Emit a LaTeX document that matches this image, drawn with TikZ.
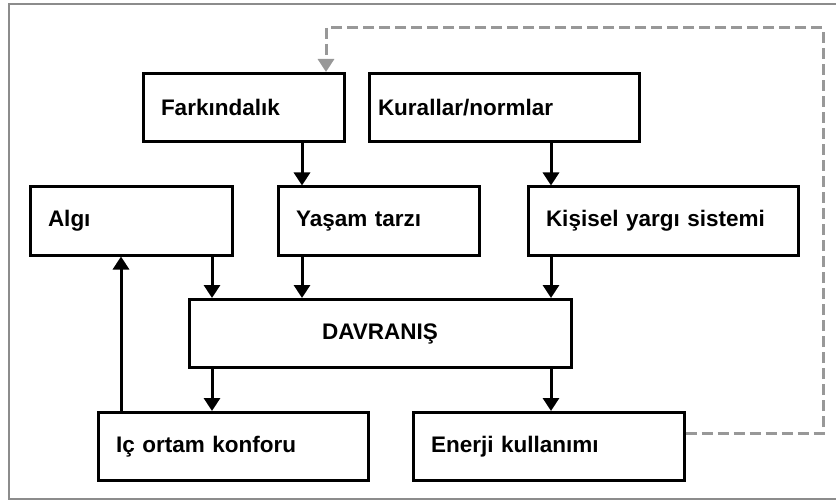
\documentclass[tikz,border=0pt]{standalone}
\usepackage{fontspec}
\setmainfont{Liberation Sans}
\usepackage{tikz}
\usetikzlibrary{arrows.meta}
\definecolor{kesik}{RGB}{152,152,152}
\definecolor{cerceve}{RGB}{140,140,140}

\begin{document}
\begin{tikzpicture}[x=1pt, y=-1pt, >={Triangle[width=16pt,length=13pt]},
  font=\fontsize{22.5}{27}\selectfont\bfseries,
  kutu/.style={draw, line width=3pt, inner xsep=18pt, inner ysep=0pt, align=left, minimum height=68pt},
  pil/.style={->, line width=3pt},
  geri/.style={->, kesik, line width=3pt, dash pattern=on 11pt off 5pt}]
\useasboundingbox (0,0) rectangle (836,500);
\draw[cerceve, line width=1.5pt] (9,4) rectangle (850,499);
% kutular
\node[kutu, text width=165pt] (fark) at (243.5,107.5) {Farkındalık};
\node[kutu, text width=252pt, inner xsep=9pt] (kural) at (504,107.5) {Kurallar/normlar};
\node[kutu, text width=166pt] (algi) at (131,221) {Algı};
\node[kutu, text width=165pt] (yasam) at (378.5,221) {Yaşam tarzı};
\node[kutu, text width=234pt] (yargi) at (663,221) {Kişisel yargı sistemi};
\node[kutu, text width=346pt, align=center] (davr) at (380,333.5) {DAVRANIŞ};
\node[kutu, text width=234pt] (konfor) at (233,446.5) {Iç ortam konforu};
\node[kutu, text width=235pt] (enerji) at (548.5,446.5) {Enerji kullanımı};
% oklar
\coordinate (c1) at (121,0);
\coordinate (c2) at (212,0);
\coordinate (c3) at (302,0);
\coordinate (c4) at (551,0);
\foreach \a/\b/\c in {fark/yasam/c3, kural/yargi/c4, algi/davr/c2, yasam/davr/c3,
    yargi/davr/c4, davr/konfor/c2, davr/enerji/c4}
  \draw[pil] (\a.south -| \c) -- (\b.north -| \c);
\draw[pil] (konfor.north -| c1) -- (algi.south -| c1);
% geri besleme
\coordinate (d1) at (823,28);
\draw[geri] ([yshift=13pt]enerji.east) -| (d1) -| ([xshift=82.5pt]fark.north);
\end{tikzpicture}
\end{document}
